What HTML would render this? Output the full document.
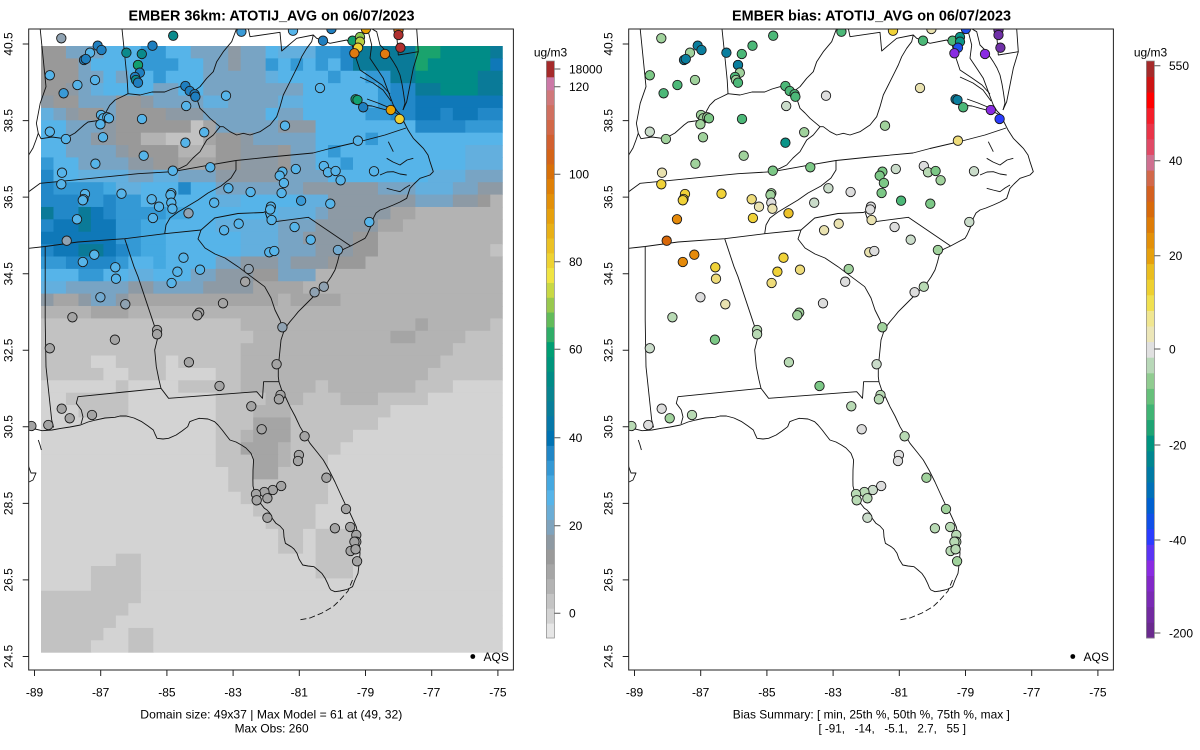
<!DOCTYPE html>
<html><head><meta charset="utf-8"><style>
html,body{margin:0;padding:0;background:#fff;}
svg{display:block;font-family:"Liberation Sans",Arial,Helvetica,sans-serif;}
text{fill:#000;font-size:12px;}
.t{font-weight:bold;font-size:14.4px;}
</style></head><body>
<svg id="s" width="1200" height="750" viewBox="0 0 1200 750" xmlns="http://www.w3.org/2000/svg">
<defs>
<clipPath id="cl"><rect x="28.7" y="29" width="484.7" height="641"/></clipPath>
<clipPath id="cr"><rect x="628.7" y="29" width="484.7" height="641"/></clipPath>
<g id="map" fill="none" stroke="#111" stroke-width="0.9" stroke-linejoin="round">
<polyline points="416.7,29 418.3,51.7 413.3,68.3 410,85 406.7,101.7 403,110"/>
<polyline points="401,116 404,122 408,130 413.3,138.3 419,144 423.3,148.3 428,155 430,161.7 433.3,171.7 430,175 420,178.3 414,184 410,188.3 406.7,198.3 400,202 393.3,205 386,208 380,210 376,213 373.3,218.3 370,228.3 367,235 365,238.3 358,242 350.6,246 344,249 340,252 337.5,262 335,270 331,277 326.7,283.3 318,292 310,300 304,306 298.3,311.7 294,317 290,321.7 286,327 283.3,333 281,340 280,350 279,360 278.3,370 278.3,376.7 279,382 281.7,390 286,398 290,406.7 295,416 300,426.7 305,435 310,443.3 317,452 323.3,460 329,470 335,482 340,493 344.8,503.3 350,513 356.3,526.7 359,540 360,553.3 359,565 358,573.3 355,580 352.5,586.7 348,589 344.8,590 340,591 335,591.7 331,590 329.5,588 327.6,583.3 325,578 321.8,573.3 318,570 314,566.7 308,566 302.7,565 299,559 297,553.3 294,549 291.2,546.7 285.4,543.3 284,537 283.5,530 280,526 275.9,523.3 272,518 270,513.3 267,510 264.4,508.3 261,504 258.6,500 256,496 254.8,493.3 253,486 252.9,480 253,470 253.6,460 251,453.3 246,448 241.4,445 236,442 229.9,440 226,435 222.2,430 218,425 214.6,421.7 208,419 199.2,418.3 194,420 189.7,421.7 187.7,426.7 182,431 176.2,435 168.6,438.3 163,439 157,438.3 155,434 153.3,430 148,426 141.8,421.7 134,418 126.4,416 120,416 115,417.3 105,418 95.8,420 88,422 80.5,425 70,427 61.3,428.3 52,430 42.1,430.7 35,429 28.7,426.7"/>
<polyline points="372,29 376.7,31.7 380,45 386.7,51.7 393.3,61.7 397,68 400,75 402,84 403.3,91.7 405,103.3 403,110"/>
<polyline points="366,29 368.3,31.7 371.7,45 370,58.3 376.7,68.3 383.3,78.3 388.3,91.7 391,99 393.3,105 397,111 401,115"/>
<polyline points="360,77 373,83 383,90 391,101"/>
<polyline points="367,99 378,103 390,108"/>
<polyline points="361.7,105 372,106 380,108.3 393.3,111.7 400,115"/>
<polyline points="396.7,29 396.7,35 398.3,55 418.3,51.7"/>
<polyline points="388.3,141.7 393.3,151.7"/>
<polyline points="386.7,158.3 393,162 400,165 407,160 413.3,158.3"/>
<polyline points="380,175 387,172 393.3,171.7 400,174 406.7,175"/>
<polyline points="386.7,188.3 393,190 400,191.7 405,188 410,185"/>
<polyline points="352.5,580 348,591 340,600 333,606.7 322,613 310,618 299,620" stroke-dasharray="6 3"/>
<polyline points="28.7,466.7 31,473 36,473 33,480 29,482"/>
<polyline points="38.3,440 40,445 41.4,450"/>
<polyline points="40.2,29 44,66.7 46,86.7 40.2,103.3 36.4,123.3 38.3,133.3 41,138.7 52,137 64.7,138.7 75,133 84,125 88,122 95,121 101,120 106,112 109.7,105.3 115,100 121.3,97 128,93.7 140,95 152,92 164.7,92 172,89 180,86.7 186,88 193.3,91.7 196.7,98.3 200,108.3 205,113 210,118.3 220,126.7"/>
<polyline points="38.3,133.3 36,140 33,148 28.7,155"/>
<polyline points="122,29 124.5,53 127.2,80 128,93.7"/>
<polyline points="193.3,91.7 200,86.7 206.7,78.3 213.3,71.7 216.7,61.7 223.3,51.7 231.7,41.7 236.7,28.3"/>
<polyline points="220,126.7 213.3,135 206.7,140 200,151.7 193,158 186.7,165 180,168.3 172.4,171.7"/>
<polyline points="28.7,191.7 40.2,183.3 71.3,180.3 138,173.7 172.4,171.7 208,165.3 236,160.5 270,157 313,153 330,148.5 360,141.5 385,135 406,128"/>
<polyline points="236,160.5 236,170 231,178 221,186 208,193 198,200 188,206 178,212 170,218 166,225 164.7,233.7"/>
<polyline points="28.7,248.3 45.2,246.5 78,242 124.7,238.7 164.7,233.7"/>
<polyline points="164.7,233.7 201,230 214.7,218 238,213.5 263.3,212.5 265,211.7 268.3,221.7 275,221.7 308.3,217.3 350.6,246"/>
<polyline points="201,230 198,239 205,248 215,254 225,258 238,266.7 251.3,276.7 264.7,286.7 271,298 275,310 280,320 283,330"/>
<polyline points="124.7,238.7 134,266.7 138,276.7 148,306.7 154.7,326.7 158,336.7 154.7,350 156.3,366.7 159,380 161,388.3"/>
<polyline points="161,388.3 168.6,398.3 256.7,391.7 262.5,398.3 263.6,381.7 279,381.7"/>
<polyline points="161,388.3 78,396.7 76.3,403.3 81.3,410 83,417 81,424"/>
<polyline points="45.2,246.5 45.2,320 46,366.7 51.7,420 53.6,427.5"/>
<polyline points="220,126.7 223.3,126.7 230,131.7 236.7,135 243.3,133.3 250,135 260,131.7 270,125 276.7,116.7 280,106.7 283.3,95 290,81.7 295,71.7 298.3,65 301.7,56.7 306.7,48.3 311.7,41.7 313.3,35 316.7,38.3 330,43.3 346.7,40 352,45 356,58 360,70 372,78 382,85 390,94"/>
<polyline points="248.3,28.3 250,36.7 280,32.3 281.7,51 296.7,38.3 313.3,35"/>
</g>
</defs>
<rect width="1200" height="750" fill="#fff"/>

<g clip-path="url(#cl)">
<g id="grid"></g>
<use href="#map"/>
<g id="dl" stroke="#1a1a1a" stroke-width="0.9"></g>
</g>
<g clip-path="url(#cr)">
<use href="#map" transform="translate(600,0)"/>
<g id="dr" stroke="#1a1a1a" stroke-width="0.9"></g>
</g>

<circle cx="472.8" cy="656.5" r="2.4" fill="#000"/>
<text x="483.5" y="661">AQS</text>
<circle cx="1072.8" cy="656.5" r="2.4" fill="#000"/>
<text x="1083.5" y="661">AQS</text>

<rect x="28.7" y="29" width="484.7" height="641" fill="none" stroke="#222" stroke-width="1"/>
<rect x="628.7" y="29" width="484.7" height="641" fill="none" stroke="#222" stroke-width="1"/>

<path stroke="#222" stroke-width="1" fill="none" d="M22.7,44H28.7M22.7,120.6H28.7M22.7,197.1H28.7M22.7,273.7H28.7M22.7,350.3H28.7M22.7,426.8H28.7M22.7,503.4H28.7M22.7,579.9H28.7M22.7,656.5H28.7M34.5,670V676M100.7,670V676M166.9,670V676M233.1,670V676M299.3,670V676M365.5,670V676M431.7,670V676M497.9,670V676"/>
<path stroke="#222" stroke-width="1" fill="none" d="M622.7,44H628.7M622.7,120.6H628.7M622.7,197.1H628.7M622.7,273.7H628.7M622.7,350.3H628.7M622.7,426.8H628.7M622.7,503.4H628.7M622.7,579.9H628.7M622.7,656.5H628.7M634.5,670V676M700.7,670V676M766.9,670V676M833.1,670V676M899.3,670V676M965.5,670V676M1031.7,670V676M1097.9,670V676"/>

<text class="t" x="271.5" y="20.5" text-anchor="middle" textLength="286" lengthAdjust="spacingAndGlyphs">EMBER 36km: ATOTIJ_AVG on 06/07/2023</text>
<text class="t" x="871.5" y="20.5" text-anchor="middle" textLength="279" lengthAdjust="spacingAndGlyphs">EMBER bias: ATOTIJ_AVG on 06/07/2023</text>

<g text-anchor="middle">
<text transform="translate(12.3,44) rotate(-90)">40.5</text>
<text transform="translate(12.3,120.6) rotate(-90)">38.5</text>
<text transform="translate(12.3,197.1) rotate(-90)">36.5</text>
<text transform="translate(12.3,273.7) rotate(-90)">34.5</text>
<text transform="translate(12.3,350.3) rotate(-90)">32.5</text>
<text transform="translate(12.3,426.8) rotate(-90)">30.5</text>
<text transform="translate(12.3,503.4) rotate(-90)">28.5</text>
<text transform="translate(12.3,579.9) rotate(-90)">26.5</text>
<text transform="translate(12.3,656.5) rotate(-90)">24.5</text>
<text transform="translate(612.3,44) rotate(-90)">40.5</text>
<text transform="translate(612.3,120.6) rotate(-90)">38.5</text>
<text transform="translate(612.3,197.1) rotate(-90)">36.5</text>
<text transform="translate(612.3,273.7) rotate(-90)">34.5</text>
<text transform="translate(612.3,350.3) rotate(-90)">32.5</text>
<text transform="translate(612.3,426.8) rotate(-90)">30.5</text>
<text transform="translate(612.3,503.4) rotate(-90)">28.5</text>
<text transform="translate(612.3,579.9) rotate(-90)">26.5</text>
<text transform="translate(612.3,656.5) rotate(-90)">24.5</text>
<text x="34.5" y="696.5">-89</text>
<text x="100.7" y="696.5">-87</text>
<text x="166.9" y="696.5">-85</text>
<text x="233.1" y="696.5">-83</text>
<text x="299.3" y="696.5">-81</text>
<text x="365.5" y="696.5">-79</text>
<text x="431.7" y="696.5">-77</text>
<text x="497.9" y="696.5">-75</text>
<text x="634.5" y="696.5">-89</text>
<text x="700.7" y="696.5">-87</text>
<text x="766.9" y="696.5">-85</text>
<text x="833.1" y="696.5">-83</text>
<text x="899.3" y="696.5">-81</text>
<text x="965.5" y="696.5">-79</text>
<text x="1031.7" y="696.5">-77</text>
<text x="1097.9" y="696.5">-75</text>
<text x="271.3" y="718.3" textLength="262" lengthAdjust="spacingAndGlyphs">Domain size: 49x37 | Max Model = 61 at (49, 32)</text>
<text x="271.6" y="732.6" textLength="74" lengthAdjust="spacingAndGlyphs">Max Obs: 260</text>
<text x="871.3" y="718.3" textLength="277" lengthAdjust="spacingAndGlyphs">Bias Summary: [ min, 25th %, 50th %, 75th %, max ]</text>
<text x="892.2" y="732.6" style="white-space:pre" textLength="147.5" lengthAdjust="spacingAndGlyphs">[ -91,   -14,   -5.1,   2.7,   55 ]</text>
<text x="550.5" y="56.5">ug/m3</text>
<text x="1150.5" y="56.5">ug/m3</text>
</g>

<g id="cbl"></g>
<g id="cbr"></g>
<rect x="546.4" y="61" width="8" height="577" fill="none" stroke="#8a8a8a" stroke-width="0.7"/>
<rect x="1146.4" y="61" width="8" height="577" fill="none" stroke="#8a8a8a" stroke-width="0.7"/>
<path stroke="#555" stroke-width="1" fill="none" d="M554.4,69H560.4M554.4,86.7H560.4M554.4,174.3H560.4M554.4,261.7H560.4M554.4,349.3H560.4M554.4,437.7H560.4M554.4,525.7H560.4M554.4,613.3H560.4M1154.4,65.7H1160.4M1154.4,160.7H1160.4M1154.4,255.7H1160.4M1154.4,349H1160.4M1154.4,445H1160.4M1154.4,540H1160.4M1154.4,633H1160.4"/>
<g>
<text x="569" y="73.3">18000</text>
<text x="569" y="91">120</text>
<text x="569" y="178.6">100</text>
<text x="569" y="266">80</text>
<text x="569" y="353.6">60</text>
<text x="569" y="442">40</text>
<text x="569" y="530">20</text>
<text x="569" y="617.6">0</text>
<text x="1169" y="70">550</text>
<text x="1169" y="165">40</text>
<text x="1169" y="260">20</text>
<text x="1169" y="353.3">0</text>
<text x="1169" y="449.3">-20</text>
<text x="1169" y="544.3">-40</text>
<text x="1169" y="637.3">-200</text>
</g>
</svg>
<script>
(function(){
var P={B:'#d3d3d3',C:'#c2c2c2',D:'#b3b3b3',E:'#a5a5a5',F:'#999999',G:'#8d9aa5',H:'#78a4c4',I:'#63afde',J:'#56b4e9',K:'#44a9e1',L:'#3499d5',M:'#2288c8',N:'#0f78b8',O:'#0a7a98',P:'#008c87',Q:'#009e73',R:'#1aa36d'};
var rows=[
"2F3H3J2L2J3HG2HJ3I2LM5O2R4PO",
"3FH4J3L2J2HG2HLJLJLJM5OR5PN",
"3F2HJH2JL3J5HI4JL2J2L2O5P2O",
"2FGHI4J2H2J6H2H6JL2M2O3P2O",
"G2F3H2FG4H2I4H2I6JL2M7N",
"IHG2FH4F3G5HJ2H5J2L2M2NM2N2M",
"2J3HG6FCE5H3G8J4M3L",
"2J2H2G2F2D3CE2FG2H3H4JL10J",
"2J4HG4F3D2F3GF2HJL10J3I",
"L2J4H2G2F3E2F3GF2H2JL9J3I",
"M2J4I2H2I3H5G4H8J3I3H",
"M4LK2I3JM2J5H2H6G3H3I2H2G",
"3M2LM2L6J2I3J2J2I7G3H2GFD",
"O2MONM4L2K7J3IH5G2E7D",
"M2NO2N2L2K4J5I3H5G2E8D",
"6N2L2K6J3I2H4G2F10D",
"M2N2ONML2K6J3I3H3G2F9DC",
"2L4ML2JK4J2H3GH3G3F11D",
"3J2L2J2I3J2H3G2F3H15D",
"2I5H2G4H4G2E2E16D",
"G2EG2HG12ED4E13D",
"4D3E12D18D",
"16C3D11DE5DC",
"17C2D9D2E4D3C",
"16C3D14D4C",
"4C2B4CB5C3D13D5C",
"5C2B3C4B2C3D12D6C",
"6BC4B5C3D3DC7D3C4B",
"2B5C7B4CD2D3C3D4C6B",
"3B4C7B3C2DD8C9B",
"14B3C2EE7C10B",
"14B2CD2EE5C12B",
"14B2C3ED4C13B",
"14B3C2ED3C14B",
"15B2C2E4C14B",
"15B4C4C14B",
"16B3C4C14B",
"17B2C3C15B",
"18BC3C15B",
"19B2CB3C12B",
"19B2CB3C12B",
"6B2C11B3B3C12B",
"4B4C11B3B3C12B",
"4B4C11B18B",
"8C11B18B",
"7C12B18B",
"6C13B18B",
"5C2B2C10B18B",
"4C3B2C10B18B"];
var cw=12.48,ch=606.7/49,h='';
rows.forEach(function(s,r){
 var a=[];s.replace(/(\d*)([A-Z])/g,function(m,n,l){var k=n?+n:1;for(var i=0;i<k;i++)a.push(l);return '';});
 while(a.length<37)a.push(a[a.length-1]);a=a.slice(0,37);
 var c=0;while(c<37){var k=c;while(k<37&&a[k]===a[c])k++;
  var w=(k-c)*cw+(k<37?0.5:0);
  h+='<rect x="'+(41+c*cw).toFixed(2)+'" y="'+(46+r*ch).toFixed(2)+'" width="'+w.toFixed(2)+'" height="'+(ch+(r<48?0.5:0)).toFixed(2)+'" fill="'+P[a[c]]+'"/>';c=k;}
});
document.getElementById('grid').innerHTML=h;

var C={lb:'#56b4e9',sb:'#72aad0',gb:'#8fa2b2',b:'#3a9ad6',db:'#1f7fc0',t:'#0a8a8c',g:'#12a070',gr:'#a4a4a4',or:'#e8a000',or2:'#e07a10',rd:'#b03030',y:'#f0d030',yg:'#b8d040',lgn:'#8cc850',
z:'#dddddd',p1:'#cadcca',p2:'#b8dab4',p3:'#a0d29c',g1:'#7cc886',g2:'#4cb878',tl:'#0a9488',tb:'#0a7e9e',bl:'#1f4ff0',bl2:'#2a3cff',pu:'#8a2be2',pd:'#7030a8',y1:'#e9e2b0',y2:'#eedc7a',y3:'#f0d238',y4:'#ecc22a',o1:'#e58a0a',o2:'#d8680a'};
var D="61.3,38.3,gb,p3;97.7,45.7,db,tb;101.5,50,db,tb;90,52.7,lb,p3;84,60,db,tb;85.8,59,db,tb;126.4,52.7,t,tb;141.8,54,t,g2;152.5,45.7,db,g2;173.2,35.7,t,g2;241.4,31.7,b,g2;293,30.7,lb,y3;331.4,29,db,y1;323,40.7,db,g2;365.9,29,or,bl;352.5,40.7,g,g2;360,37,lgn,tl;360,41.7,yg,tl;358,47.7,y,bl;354.4,53.3,or2,pu;398.5,30,or2,pd;398.5,35,rd,pd;400.4,47.7,rd,pd;385,54,or2,pu;49.8,75.3,lb,g1;95,80,lb,p3;77.4,85,lb,g2;63.6,93.3,b,g2;138,65,g,tb;138,65,g,tb;139.8,72.7,db,p3;135,77,db,g2;136,80,t,p3;138,82.7,db,g2;185.4,86,db,g2;189.7,91,db,g2;194.6,94.3,db,g2;195.4,96.7,db,g2;226,95.7,lb,z;186.2,106,lb,p1;320,88,lb,y1;355.6,99.3,g,tb;357.5,100,g,tb;363.2,107.3,db,g2;390.8,110,or,pu;399.6,119,y,bl2;101,115,lb,p3;103.4,118.3,lb,p3;107.3,117.3,lb,p3;109,118.3,lb,g1;100.4,124.3,lb,p3;142,119,lb,g2;49.8,131.7,lb,p1;65.9,139,lb,p3;103,137.3,lb,p3;204.2,132.3,lb,p3;285,125.7,lb,p3;185.4,142.7,lb,tl;143.7,155.7,lb,p3;357.9,140.7,lb,y2;95.4,163.7,lb,p3;62,172.7,lb,y1;61.3,184.3,lb,y3;172.8,170.7,lb,g1;210.3,167.3,lb,g1;295.8,169,lb,p1;282.4,171.7,lb,g1;279.7,175.7,lb,g1;283.9,183,lb,g1;323.8,166,lb,z;328,172.3,lb,p2;335.6,171,lb,g1;340.6,180.3,lb,p3;374,171.3,lb,p1;85,194,lb,y3;83.5,199,lb,y3;82.8,200.3,lb,y3;121.5,193.7,lb,y3;151.7,199.3,lb,y2;171.3,193.3,lb,p3;170.5,195,lb,p3;171.3,202.7,lb,z;159,206.7,lb,y1;172.4,208.7,lb,y1;188.5,213.3,gb,y4;152.9,218,lb,y3;77,219.3,lb,o1;66.7,240.7,gb,o2;94.3,254.7,lb,o1;82.8,262,lb,o1;115.3,267.3,lb,y3;116,278.7,lb,y2;100.4,297.3,sb,z;125.3,304.3,gb,y1;72.4,317.3,gr,p2;228.4,188.3,lb,p1;250.6,192,lb,z;214.2,202.7,lb,p1;270.9,206.7,lb,z;270.2,209.5,lb,z;271.6,220,lb,y1;281.6,193,lb,g1;301.1,200.7,b,g2;330.3,203.7,lb,g1;369.3,222,lb,p1;238.7,223.7,lb,y1;224.1,230.3,lb,y1;294.6,227,lb,z;310.7,239.7,lb,p1;269.3,252.3,lb,y1;274.3,251,lb,z;337.9,250,sb,p3;183.5,257.7,lb,y3;177.4,271.7,lb,y3;200,269.7,lb,y2;171.6,283,lb,y2;248.7,269,gb,p3;245.2,281.7,gr,z;323.8,286.7,gb,p2;314.6,292.3,gb,z;223,303.3,gr,z;199.2,312.7,gr,p3;197.3,315.3,gr,p3;157.1,330,gr,p2;157.1,334.3,gr,p2;282.4,327.3,gb,p3;114.9,339.7,gr,g1;49.8,348.3,gr,p1;188.9,362.3,gr,p2;276.6,364.3,gr,p1;219.5,386,gr,g1;280.5,395,gr,p2;278.9,399.3,gr,p2;251.3,406.3,gr,p2;61.7,408.7,gr,z;69.7,418.3,gr,p3;92,415,gr,p2;31.4,426,gr,p2;48.3,425,gr,z;261.7,429.3,gr,z;304.6,436.3,gr,p2;298.9,455,gr,z;298,461,gr,z;326.4,477.7,gr,p3;281.2,486,gr,z;272.8,490,gr,p1;264.4,492,gr,p2;256,494,gr,p2;256.7,500.3,gr,p2;267.4,498.3,gr,p2;346,509,gr,p3;267.4,517.7,gr,p1;334.9,528.3,gr,p2;350.2,527,gr,p2;356.3,535,gr,p2;356.3,541.7,gr,p2;354.4,541.7,gr,p2;350.6,551,gr,p2;355.6,549.3,gr,p2;357.1,561.3,gr,p3";
var L='',R='';
D.split(';').forEach(function(q){var d=q.split(',');var x=+d[0],y=+d[1];
 L+='<circle cx="'+x+'" cy="'+y+'" r="4.7" fill="'+C[d[2]]+'"/>';
 R+='<circle cx="'+(x+600)+'" cy="'+y+'" r="4.7" fill="'+C[d[3]]+'"/>';});
document.getElementById('dl').innerHTML=L;
document.getElementById('dr').innerHTML=R;

var LC=['#e6e6e6','#d3d3d3','#c4c4c4','#b3b3b3','#a6a6a6','#9a9a9a','#8e99a2','#7fa3bd','#6aadd6','#56b4e9','#45a8e0','#3498d4','#2086c6','#0072b2','#0678a8','#087e9a','#088490','#008b86','#00957c','#009e73','#2fad68','#62bb5a','#98c84e','#c8d844','#f0e442','#eed232','#ebc124','#e8b016','#e6a00c','#e39008','#df8006','#d87008','#d46418','#d26030','#d26848','#d07060','#d0787a'];
var RC=['#6a2a8e','#722aa0','#7a2ab4','#8228c8','#8a2be2','#5a34f4','#2a3cff','#1050e8','#0060d0','#0070b8','#007aa4','#008690','#009480','#1fa474','#40b474','#66c07a','#90cc90','#b8d8b8','#e0e0e0','#ece6b8','#f0e690','#f0e050','#eed030','#eabd1e','#e6a00c','#e39008','#de7c06','#d86a0a','#d46020','#d2684a','#cf7090','#e04a66','#ea3448','#f41e2a','#ff0000','#cc1414','#a52a2a'];
var s='',hh=(638-90)/37;
LC.forEach(function(c,i){s+='<rect x="546.4" y="'+(638-(i+1)*hh).toFixed(2)+'" width="8" height="'+(hh+0.4).toFixed(2)+'" fill="'+c+'"/>';});
s+='<rect x="546.4" y="77" width="8" height="13.3" fill="#cc79a7"/><rect x="546.4" y="61" width="8" height="16.3" fill="#a52a2a"/>';
document.getElementById('cbl').innerHTML=s;
s='';hh=577/37;
RC.forEach(function(c,i){s+='<rect x="1146.4" y="'+(638-(i+1)*hh).toFixed(2)+'" width="8" height="'+(hh+0.4).toFixed(2)+'" fill="'+c+'"/>';});
document.getElementById('cbr').innerHTML=s;
})();
</script>
</body></html>
